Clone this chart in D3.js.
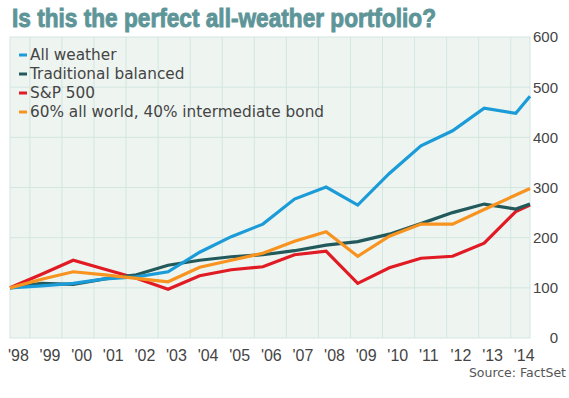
<!DOCTYPE html>
<html>
<head>
<meta charset="utf-8">
<script src="https://cdn.jsdelivr.net/npm/d3@7"></script>
<style>
  body { margin: 0; background: #fff; }
  svg { display: block; }
</style>
</head>
<body>
<svg id="chart" width="569" height="398"></svg>
<script>
// All weather vs other portfolios, growth of 100
const periods = [1998, 1999, 2000, 2001, 2002, 2003, 2004, 2005, 2006, 2007, 2008, 2009, 2010, 2011, 2012, 2013, 2014, 2014.45];
const yearLabels = ["'98", "'99", "'00", "'01", "'02", "'03", "'04", "'05", "'06", "'07", "'08", "'09", "'10", "'11", "'12", "'13", "'14"];
const labelYears = [1998, 1999, 2000, 2001, 2002, 2003, 2004, 2005, 2006, 2007, 2008, 2009, 2010, 2011, 2012, 2013, 2014];
const yTicks = [0, 100, 200, 300, 400, 500, 600];

const allWeather  = [100, 104, 109, 118, 122, 132, 171, 202, 227, 277, 301, 265, 328, 383, 413, 458, 448, 482];
const traditional = [100, 109, 107, 118, 126, 145, 155, 162, 166, 174, 185, 192, 207, 228, 250, 267, 257, 267];
const sp500       = [100, 127, 155, 137, 119, 97, 124, 136, 142, 166, 173, 109, 140, 159, 163, 189, 252, 265];
const mix6040     = [100, 117, 132, 126, 119, 112, 141, 155, 169, 193, 212, 163, 203, 227, 227, 256, 285, 298];

const seriesNames = ["All weather", "Traditional balanced", "S&P 500", "60% all world, 40% intermediate bond"];
const seriesColors = ["#1b9bd7", "#22595b", "#e01b24", "#f7931e"];
const seriesValues = [allWeather, traditional, sp500, mix6040];
const drawOrder = [2, 1, 0, 3];

let svg = d3.select("#chart");
const plotL = 10, plotR = 530, plotT = 37, plotB = 338;

let x = d3.scaleLinear().domain([1998, 2014.45]).range([plotL, plotR]);
let y = d3.scaleLinear().domain([0, 600]).range([plotB, plotT]);
// vertical grid columns don't sit on the data points in the original
let gx = d3.scaleLinear().domain([0, 16.22]).range([plotL, plotR]);

// title
svg.append("text")
  .attr("x", 12)
  .attr("y", 27)
  .attr("textLength", 424)
  .attr("lengthAdjust", "spacingAndGlyphs")
  .style("font-family", "'Liberation Sans Narrow', 'Liberation Sans', Arial, sans-serif")
  .style("font-weight", "bold")
  .style("font-size", "25px")
  .style("fill", "#5e9598")
  .style("stroke", "#5e9598")
  .style("stroke-width", 0.9)
  .text("Is this the perfect all-weather portfolio?");

// plot background
svg.append("rect")
  .attr("x", plotL).attr("y", plotT)
  .attr("width", plotR - plotL).attr("height", plotB - plotT)
  .attr("fill", "#eef5f1")
  .attr("stroke", "#d3e5e1")
  .attr("stroke-width", 1);

svg.append("g").selectAll("line").data(yTicks.slice(1, -1))
  .join("line")
  .attr("x1", plotL).attr("x2", plotR)
  .attr("y1", d => y(d)).attr("y2", d => y(d))
  .attr("stroke", "#d3e5e1").attr("stroke-width", 1);

svg.append("g").selectAll("line").data(d3.range(16))
  .join("line")
  .attr("x1", d => gx(d + 0.62)).attr("x2", d => gx(d + 0.62))
  .attr("y1", plotT).attr("y2", plotB)
  .attr("stroke", "#d3e5e1").attr("stroke-width", 1);

// y axis labels on the right
svg.append("g").selectAll("text").data(yTicks)
  .join("text")
  .attr("x", 558)
  .attr("y", d => y(d))
  .attr("dy", "0.36em")
  .attr("text-anchor", "end")
  .style("font-family", "'Liberation Sans Narrow', 'Liberation Sans', Arial, sans-serif")
  .style("font-size", "15px")
  .style("fill", "#444")
  .text(d => d);

// x axis labels
svg.append("g").selectAll("text").data(labelYears)
  .join("text")
  .attr("x", d => x(d) - 2)
  .attr("y", 361)
  .style("font-family", "'Liberation Sans Narrow', 'Liberation Sans', Arial, sans-serif")
  .style("font-size", "16px")
  .style("fill", "#444")
  .text((d, i) => yearLabels[i]);

// lines
let line = d3.line()
  .x((d, i) => x(periods[i]))
  .y(d => y(d));

svg.append("g").selectAll("path").data(drawOrder)
  .join("path")
  .attr("d", k => line(seriesValues[k]))
  .attr("fill", "none")
  .attr("stroke", k => seriesColors[k])
  .attr("stroke-width", 3.2)
  .attr("stroke-linejoin", "miter");

// legend
let legend = svg.append("g").selectAll("g").data(seriesNames)
  .join("g")
  .attr("transform", (d, i) => `translate(19, ${60 + i * 19})`);

legend.append("line")
  .attr("x1", 0).attr("x2", 8)
  .attr("y1", -5).attr("y2", -5)
  .attr("stroke", (d, i) => seriesColors[i])
  .attr("stroke-width", 3);

legend.append("text")
  .attr("x", 11)
  .style("font-family", "'DejaVu Sans', Verdana, sans-serif")
  .style("font-size", "15.3px")
  .style("fill", "#444")
  .text(d => d);

// source
svg.append("text")
  .attr("x", 566)
  .attr("y", 377)
  .attr("text-anchor", "end")
  .style("font-family", "'DejaVu Sans', Verdana, sans-serif")
  .style("font-size", "12.5px")
  .style("fill", "#555")
  .text("Source: FactSet");
</script>
</body>
</html>
